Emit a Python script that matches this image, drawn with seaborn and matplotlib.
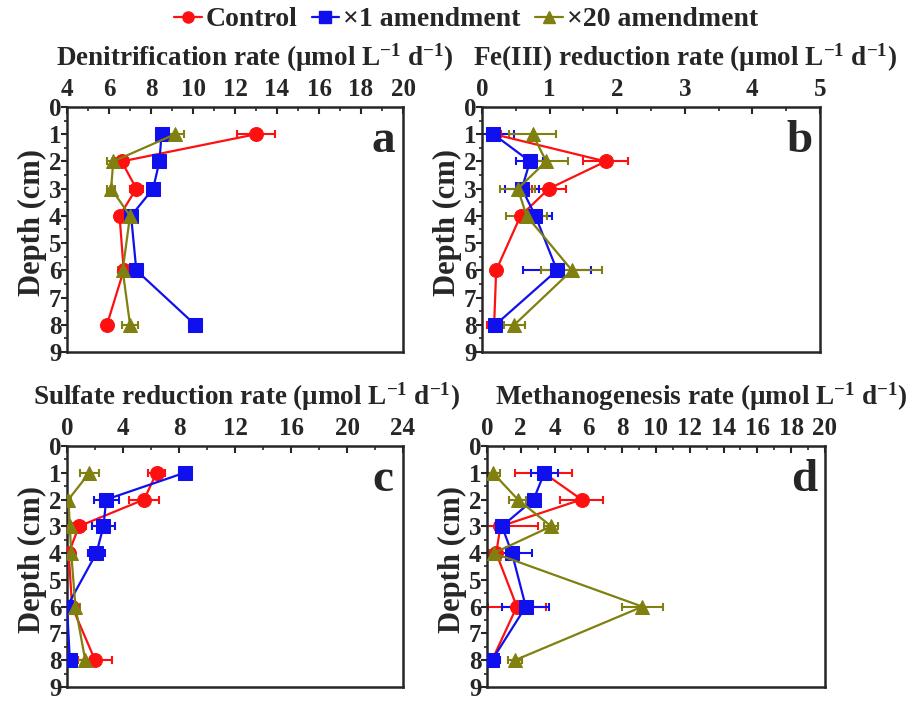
import numpy as np
import pandas as pd
import matplotlib
matplotlib.use("Agg")
import matplotlib.pyplot as plt
from matplotlib.lines import Line2D
from matplotlib.ticker import MultipleLocator
import seaborn as sns

depth = [1, 2, 3, 4, 6, 8]
series_names = ["Control", "\u00d71 amendment", "\u00d720 amendment"]

# Panel a: denitrification
a_ctrl = [13.0, 6.6, 7.3, 6.5, 6.7, 5.9]
a_ctrl_err = [0.9, 0.3, 0.3, 0.2, 0.2, 0.2]
a_x1 = [8.5, 8.4, 8.1, 7.05, 7.3, 10.1]
a_x1_err = [0.2, 0.2, 0.2, 0.2, 0.3, 0.3]
a_x20 = [9.15, 6.2, 6.1, 7.0, 6.65, 7.0]
a_x20_err = [0.4, 0.3, 0.2, 0.3, 0.2, 0.4]

# Panel b: Fe(III) reduction
b_ctrl = [0.18, 1.83, 0.99, 0.57, 0.21, 0.18]
b_ctrl_err = [0.1, 0.33, 0.25, 0.05, 0.05, 0.1]
b_x1 = [0.17, 0.71, 0.59, 0.79, 1.11, 0.2]
b_x1_err = [0.3, 0.2, 0.25, 0.25, 0.5, 0.05]
b_x20 = [0.75, 0.95, 0.53, 0.66, 1.33, 0.48]
b_x20_err = [0.35, 0.32, 0.26, 0.3, 0.45, 0.15]

# Panel c: sulfate reduction
c_ctrl = [6.4, 5.5, 0.85, 0.12, 0.36, 2.0]
c_ctrl_err = [0.6, 1.1, 0.5, 0.1, 0.1, 1.2]
c_x1 = [8.4, 2.8, 2.6, 2.1, 0.0, 0.2]
c_x1_err = [0.4, 0.9, 0.8, 0.6, 0.05, 0.2]
c_x20 = [1.6, 0.1, 0.2, 0.3, 0.6, 1.3]
c_x20_err = [0.7, 0.2, 0.2, 0.2, 0.3, 0.6]

# Panel d: methanogenesis
d_ctrl = [3.35, 5.6, 0.8, 0.55, 1.77, 0.3]
d_ctrl_err = [1.7, 1.25, 2.2, 0.3, 1.7, 0.3]
d_x1 = [3.4, 2.76, 0.89, 1.48, 2.3, 0.3]
d_x1_err = [0.8, 0.3, 0.4, 1.2, 1.4, 0.5]
d_x20 = [0.35, 1.83, 3.8, 0.4, 9.2, 1.66]
d_x20_err = [0.4, 0.5, 0.4, 0.3, 1.2, 0.4]

sns.set_theme(style="ticks")
plt.rcParams["font.family"] = ["Liberation Serif", "DejaVu Serif"]
plt.rcParams["font.weight"] = "bold"
plt.rcParams["axes.labelweight"] = "bold"
plt.rcParams["mathtext.fontset"] = "custom"
plt.rcParams["mathtext.rm"] = "Liberation Serif:bold"
plt.rcParams["mathtext.it"] = "Liberation Serif:bold"
plt.rcParams["mathtext.bf"] = "Liberation Serif:bold"

colors = ["#ff1010", "#1010ee", "#808010"]
markers = ["o", "s", "^"]

fig = plt.figure(figsize=(9.17, 7.02), dpi=100)

panels = [
    dict(rect=[0.0731, 0.4986, 0.3664, 0.349], title="Denitrification rate", letter="a",
         xlim=(4, 20), major=2, minor=1, tx=0.56,
         data=[(a_ctrl, a_ctrl_err), (a_x1, a_x1_err), (a_x20, a_x20_err)]),
    dict(rect=[0.5256, 0.4986, 0.3686, 0.349], title="Fe(III) reduction rate", letter="b",
         xlim=(0, 5), major=1, minor=0.5, tx=0.60,
         data=[(b_ctrl, b_ctrl_err), (b_x1, b_x1_err), (b_x20, b_x20_err)]),
    dict(rect=[0.0731, 0.0214, 0.3664, 0.3433], title="Sulfate reduction rate", letter="c",
         xlim=(0, 24), major=4, minor=2, tx=0.535,
         data=[(c_ctrl, c_ctrl_err), (c_x1, c_x1_err), (c_x20, c_x20_err)]),
    dict(rect=[0.531, 0.0214, 0.3686, 0.3433], title="Methanogenesis rate", letter="d",
         xlim=(0, 20), major=2, minor=1, tx=0.635,
         data=[(d_ctrl, d_ctrl_err), (d_x1, d_x1_err), (d_x20, d_x20_err)]),
]

for p in panels:
    ax = fig.add_axes(p["rect"])
    for i, (vals, errs) in enumerate(p["data"]):
        ax.errorbar(vals, depth, xerr=errs, fmt="none", ecolor=colors[i],
                    elinewidth=1.5, capsize=3, capthick=1.5, zorder=2)
        df = pd.DataFrame({"rate": vals, "depth": depth})
        sns.lineplot(data=df, x="rate", y="depth", orient="y", estimator=None,
                     color=colors[i], marker=markers[i], markersize=10,
                     markeredgecolor=colors[i], linewidth=1.6, ax=ax, zorder=3)
    ax.set_xlim(*p["xlim"])
    ax.set_ylim(9, 0)
    ax.yaxis.set_major_locator(MultipleLocator(1))
    ax.yaxis.set_minor_locator(MultipleLocator(0.5))
    ax.xaxis.set_major_locator(MultipleLocator(p["major"]))
    ax.xaxis.set_minor_locator(MultipleLocator(p["minor"]))
    ax.xaxis.tick_top()
    ax.xaxis.set_label_position("top")
    ax.tick_params(axis="x", which="both", direction="in", top=True, bottom=False,
                   labelsize=18, pad=4)
    ax.tick_params(axis="x", which="major", length=5, width=1.5)
    ax.tick_params(axis="x", which="minor", length=3, width=1.2)
    ax.tick_params(axis="y", which="major", direction="out", length=4, width=1.5,
                   labelsize=18, pad=0)
    ax.tick_params(axis="y", which="minor", direction="out", length=2.5, width=1.2)
    for lab in ax.get_xticklabels() + ax.get_yticklabels():
        lab.set_fontweight("bold")
    for s in ax.spines.values():
        s.set_linewidth(1.8)
        s.set_visible(True)
    ax.set_xlabel(p["title"] + r" ($\mathregular{\mu}$mol L$^{-1}$ d$^{-1}$)",
                  fontsize=19.5, fontweight="bold", labelpad=9)
    ax.xaxis.label.set_x(p["tx"])
    ax.set_ylabel("Depth (cm)", fontsize=22, fontweight="bold", labelpad=1)
    ax.yaxis.label.set_y(0.53)
    ax.text(0.94, 0.86, p["letter"], transform=ax.transAxes, fontsize=34,
            fontweight="bold", ha="center", va="center")
    if ax.get_legend() is not None:
        ax.get_legend().remove()

handles = [Line2D([0], [0], color=colors[i], marker=markers[i], markersize=8,
                  linewidth=1.6, markeredgecolor=colors[i]) for i in range(3)]
fig.legend(handles, series_names, loc="center", bbox_to_anchor=(0.508, 0.972), ncol=3,
           frameon=False, prop=dict(family="Liberation Serif", weight="bold", size=20),
           handlelength=1.0, handletextpad=0.15, columnspacing=0.5)

fig.savefig("out.png", dpi=100)
